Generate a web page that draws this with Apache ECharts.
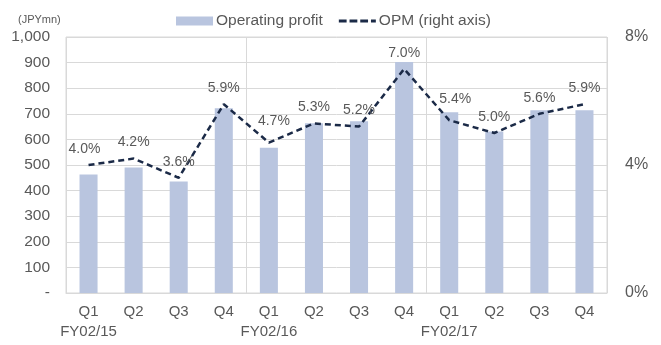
<!DOCTYPE html>
<html>
<head>
<meta charset="utf-8">
<script src="https://cdn.jsdelivr.net/npm/echarts@6/dist/echarts.min.js"></script>
<style>
  html, body { margin: 0; padding: 0; background: #fff; }
  #chart { width: 661px; height: 345px; }
</style>
</head>
<body>
<div id="chart"></div>
<script>
// Quarterly operating profit (JPY mn) and operating profit margin (%)
const quarters = ['Q1', 'Q2', 'Q3', 'Q4', 'Q1', 'Q2', 'Q3', 'Q4', 'Q1', 'Q2', 'Q3', 'Q4'];
const fiscalYears = ['FY02/15', '', '', '', 'FY02/16', '', '', '', 'FY02/17', '', '', ''];
const operatingProfit = [463, 490, 436, 722, 567, 663, 671, 902, 706, 631, 714, 714];
const opm = [4.0, 4.2, 3.6, 5.9, 4.7, 5.3, 5.2, 7.0, 5.4, 5.0, 5.6, 5.9];

const categories = quarters.map((q, i) => i);
const FONT = 'Liberation Sans, Arial, sans-serif';
const TEXT = '#595959';
const GRID = '#d9d9d9';
const BAR = '#b9c5df';
const LINE = '#1b2a47';

// a few margin labels are nudged so they clear the bars beneath them
const labelNudge = { 0: [-4, 0], 4: [5, -5], 8: [6, -5] };

// dashed legend glyph for the margin line
const DASH_ICON = 'path://M0,3h8v3H0z M11,3h8v3h-8z M22,3h8v3h-8z M33,3h5v3h-5z M0,0h0.01v9H0z';

const chart = echarts.init(document.getElementById('chart'));
chart.setOption({
  animation: false,
  textStyle: { fontFamily: FONT },
  title: {
    text: '(JPYmn)',
    left: 13, top: 9,
    textStyle: { fontSize: 11, color: TEXT, fontWeight: 'normal', fontFamily: FONT }
  },
  legend: {
    top: 8, left: 171,
    itemGap: 16,
    textStyle: { fontSize: 15.5, color: TEXT, fontFamily: FONT, padding: [0, 0, 0, -2] },
    data: [
      { name: 'Operating profit', icon: 'rect', itemStyle: { color: BAR } },
      { name: 'OPM (right axis)', icon: DASH_ICON, itemStyle: { color: LINE } }
    ],
    itemWidth: 37, itemHeight: 9
  },
  grid: {
    left: 66, right: 54, top: 37, bottom: 52,
    show: true, borderColor: GRID, borderWidth: 1
  },
  xAxis: {
    type: 'category',
    data: categories,
    axisTick: { show: false },
    axisLine: { lineStyle: { color: GRID } },
    splitLine: {
      show: true,
      interval: (i) => i % 4 === 0,
      lineStyle: { color: GRID }
    },
    axisLabel: {
      interval: 0,
      margin: 9,
      lineHeight: 20,
      fontSize: 15,
      color: TEXT,
      formatter: (v) => {
        const i = Number(v);
        return quarters[i] + '\n' + (fiscalYears[i] || ' ');
      }
    }
  },
  yAxis: [
    {
      type: 'value', min: 0, max: 1000, interval: 100,
      axisLine: { show: false }, axisTick: { show: false },
      splitLine: { lineStyle: { color: GRID } },
      axisLabel: {
        fontSize: 15.5, color: TEXT, margin: 16,
        formatter: (v) => v === 0 ? '-' : v.toLocaleString('en-US')
      }
    },
    {
      type: 'value', min: 0, max: 8, interval: 4,
      axisLine: { show: false }, axisTick: { show: false },
      splitLine: { show: false },
      axisLabel: { fontSize: 16, color: TEXT, margin: 18, formatter: (v) => v + '%' }
    }
  ],
  series: [
    {
      name: 'Operating profit',
      type: 'bar',
      data: operatingProfit,
      barWidth: '40%',
      itemStyle: { color: BAR }
    },
    {
      name: 'OPM (right axis)',
      type: 'line',
      yAxisIndex: 1,
      data: opm.map((v, i) => labelNudge[i]
        ? { value: v, label: { offset: labelNudge[i] } }
        : v),
      symbol: 'circle',
      symbolSize: 0,
      showAllSymbol: true,
      lineStyle: { color: LINE, width: 2.5, type: [6, 4] },
      itemStyle: { color: LINE },
      label: {
        show: true, position: 'top', distance: 9,
        fontSize: 14, color: TEXT,
        formatter: (p) => p.value.toFixed(1) + '%'
      },
      z: 5
    }
  ]
});
</script>
</body>
</html>
